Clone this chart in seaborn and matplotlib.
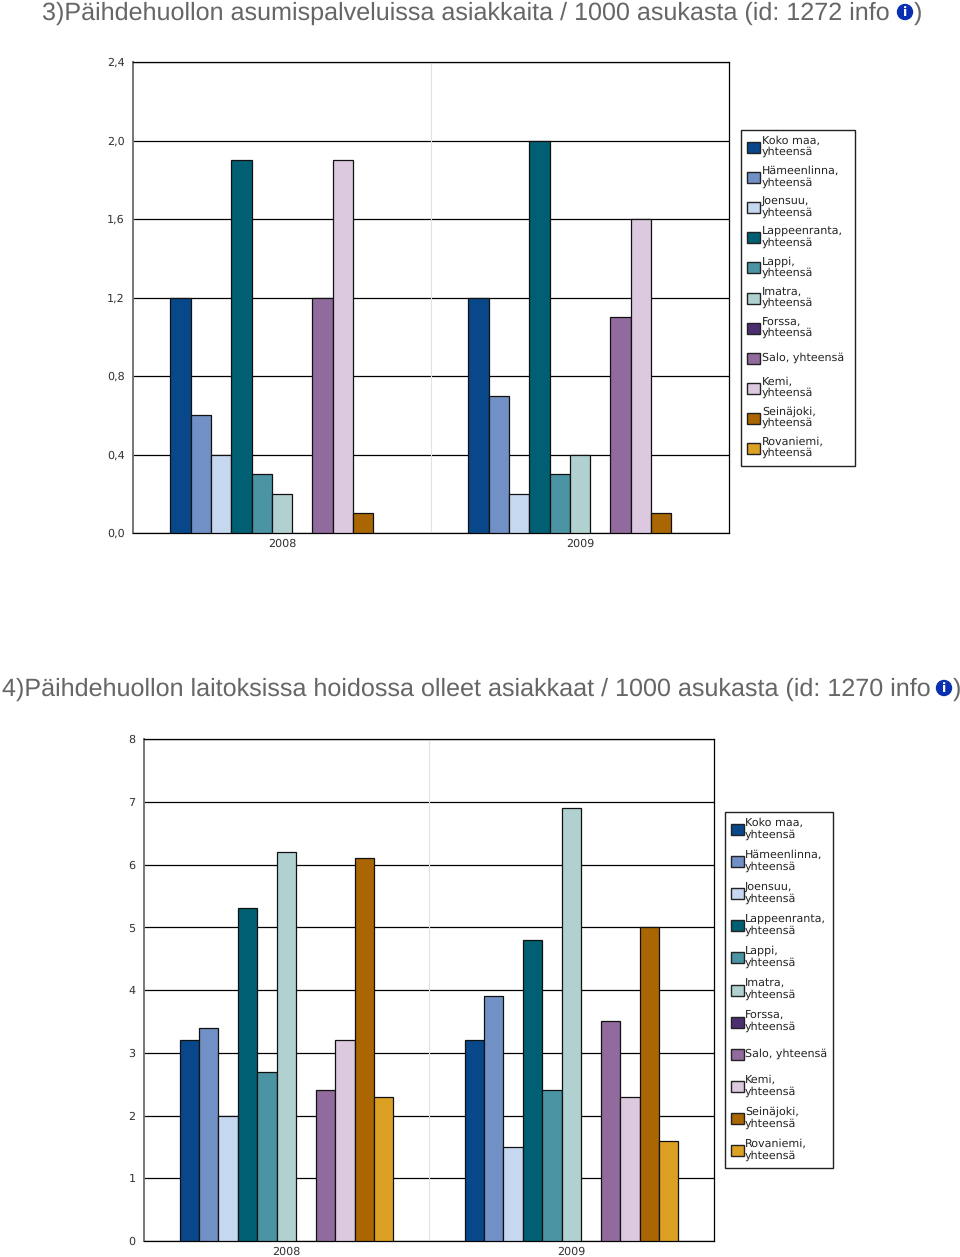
import matplotlib
matplotlib.use("Agg")
import matplotlib.pyplot as plt
from matplotlib.patches import Rectangle, Circle
import numpy as np
import pandas as pd
import seaborn as sns

W, H = 960, 1257

# Data
years = ["2008", "2009"]
regions = ["Koko maa, yhteensä", "Hämeenlinna, yhteensä", "Joensuu, yhteensä",
           "Lappeenranta, yhteensä", "Lappi, yhteensä", "Imatra, yhteensä",
           "Forssa, yhteensä", "Salo, yhteensä", "Kemi, yhteensä",
           "Seinäjoki, yhteensä", "Rovaniemi, yhteensä"]
colors = ["#07478a", "#7090c6", "#c6d7f0", "#005f73", "#4b94a4", "#b1d1d0",
          "#4c2f70", "#916b9d", "#dcc9e0", "#a96603", "#dca024"]

title_top = "3)Päihdehuollon asumispalveluissa asiakkaita / 1000 asukasta (id: 1272 info"
vals_top_2008 = [1.2, 0.6, 0.4, 1.9, 0.3, 0.2, np.nan, 1.2, 1.9, 0.1, np.nan]
vals_top_2009 = [1.2, 0.7, 0.2, 2.0, 0.3, 0.4, np.nan, 1.1, 1.6, 0.1, np.nan]
ticks_top = [0.0, 0.4, 0.8, 1.2, 1.6, 2.0, 2.4]

title_bottom = "4)Päihdehuollon laitoksissa hoidossa olleet asiakkaat / 1000 asukasta (id: 1270 info"
vals_bottom_2008 = [3.2, 3.4, 2.0, 5.3, 2.7, 6.2, np.nan, 2.4, 3.2, 6.1, 2.3]
vals_bottom_2009 = [3.2, 3.9, 1.5, 4.8, 2.4, 6.9, np.nan, 3.5, 2.3, 5.0, 1.6]
ticks_bottom = [0, 1, 2, 3, 4, 5, 6, 7, 8]

plt.rcParams["text.hinting"] = "none"
fig = plt.figure(figsize=(W / 100, H / 100), dpi=100, facecolor="white")


def add_title(text, x, y, icon_x):
    fig.text(x / W, 1 - (y + 1) / H, text, family="Liberation Sans", fontsize=18.07,
             color="#666666", ha="left", va="center")
    fig.patches.append(Circle((icon_x, H - y), 7.5, transform=None, color="#0a2fb0"))
    fig.text(icon_x / W, 1 - y / H, "i", family="DejaVu Sans", weight="bold", fontsize=9,
             color="white", ha="center", va="center")
    fig.text((icon_x + 9) / W, 1 - (y + 1) / H, ")", family="Liberation Sans", fontsize=18.07,
             color="#666666", ha="left", va="center")


def bar_chart(box, vals_a, vals_b, ticks, fmt):
    left, right, top, bottom = box
    ax = fig.add_axes([left / W, 1 - bottom / H, (right - left) / W, (bottom - top) / H])
    df = pd.DataFrame({
        "year": np.repeat(years, len(regions)),
        "region": regions * 2,
        "value": vals_a + vals_b,
    })
    sns.barplot(data=df, x="year", y="value", hue="region", hue_order=regions,
                palette=colors, width=0.75, gap=0, saturation=1, legend=False,
                edgecolor="#111111", linewidth=0.9, errorbar=None, ax=ax, zorder=3)
    ax.set_xlim(-0.5, 1.5)
    ax.set_ylim(ticks[0], ticks[-1])
    ax.set_yticks(ticks)
    ax.set_yticklabels([fmt(t) for t in ticks], fontsize=8, color="#333333")
    ax.set_xlabel("")
    ax.set_ylabel("")
    ax.tick_params(axis="x", length=0, labelsize=8, pad=4, labelcolor="#333333")
    ax.tick_params(axis="y", length=0, pad=6)
    ax.yaxis.grid(True, color="black", lw=0.9, zorder=1)
    ax.xaxis.grid(False)
    ax.set_axisbelow(True)
    ax.axvline(0.5, color="#e2e2e2", lw=0.8, zorder=1)
    for s in ax.spines.values():
        s.set_visible(True)
        s.set_color("black")
        s.set_linewidth(0.9)
    ax.spines["left"].set_color("#777777")
    ax.spines["left"].set_linewidth(1.4)
    return ax


def wrap_label(name):
    if name.startswith("Salo"):
        return name
    return name.replace(", ", ",\n")


def legend_box(x0, x1, y0, y1, first_y, step, swatch_x, text_x, line_gap):
    # y in pixels from the top
    fig.patches.append(Rectangle((x0, H - y1), x1 - x0, y1 - y0, transform=None,
                                 facecolor="white", edgecolor="#222222", lw=1))
    for i, name in enumerate(regions):
        yc = first_y + i * step
        fig.patches.append(Rectangle((swatch_x, H - yc - 6), 13, 11, transform=None,
                                     facecolor=colors[i], edgecolor="#222222", lw=1))
        fig.text(text_x / W, 1 - (yc - 0.5) / H, wrap_label(name), family="DejaVu Sans",
                 fontsize=8, color="#222222", ha="left", va="center", linespacing=line_gap)


add_title(title_top, 42, 12, 905)
bar_chart((133, 729, 62, 533), vals_top_2008, vals_top_2009, ticks_top,
          lambda t: f"{t:.1f}".replace(".", ","))
legend_box(741, 855, 130, 466, 147, 30.1, 747, 762, 1.08)

add_title(title_bottom, 2, 688, 944)
bar_chart((144, 714, 739, 1241), vals_bottom_2008, vals_bottom_2009, ticks_bottom,
          lambda t: str(t))
legend_box(725, 833, 812, 1168, 829, 32.1, 731, 745, 1.18)

fig.savefig("out.png", dpi=100)
